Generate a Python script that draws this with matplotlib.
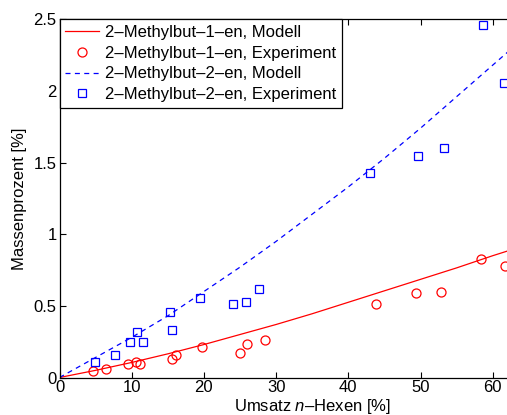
import matplotlib
matplotlib.use('Agg')
from matplotlib import pyplot as plt

plt.rcParams['font.family'] = ['Liberation Sans', 'DejaVu Sans']
plt.rcParams['mathtext.fontset'] = 'custom'
plt.rcParams['mathtext.it'] = 'Liberation Sans:italic'
plt.rcParams['mathtext.rm'] = 'Liberation Sans'

# Modellkurven
model_x = [0, 5, 10, 15, 20, 25, 30, 35, 40, 45, 50, 55, 60, 65]
model_mb1 = [0, 0.05, 0.105, 0.165, 0.23, 0.30, 0.37, 0.445, 0.525, 0.605, 0.685, 0.765, 0.85, 0.93]
model_mb2 = [0, 0.14, 0.28, 0.43, 0.60, 0.77, 0.95, 1.14, 1.33, 1.53, 1.74, 1.96, 2.18, 2.40]

# Messwerte 2-Methylbut-1-en
exp1_x = [4.6, 6.4, 9.5, 10.6, 11.1, 15.6, 16.2, 19.7, 25.0, 26.0, 28.5, 43.9, 49.4, 52.9, 58.4, 61.7]
exp1_y = [0.047, 0.061, 0.092, 0.11, 0.096, 0.127, 0.157, 0.212, 0.168, 0.235, 0.261, 0.512, 0.588, 0.60, 0.825, 0.778]

# Messwerte 2-Methylbut-2-en
exp2_x = [4.9, 7.7, 9.7, 10.8, 11.6, 15.3, 15.6, 19.5, 24.0, 25.8, 27.6, 43.0, 49.6, 53.3, 58.6, 61.5]
exp2_y = [0.11, 0.155, 0.245, 0.32, 0.245, 0.454, 0.33, 0.554, 0.51, 0.526, 0.621, 1.429, 1.547, 1.605, 2.457, 2.053]

W, H = 507, 415
fig = plt.figure(figsize=(W / 100, H / 100), dpi=100)
px_per_unit = 7.22
ax = fig.add_axes([59.5 / W, 37.5 / H, 70 * px_per_unit / W, 358.2 / H])

ax.plot(model_x, model_mb1, '-', color='red', lw=0.9, label='2–Methylbut–1–en, Modell')
ax.plot(exp1_x, exp1_y, 'o', mfc='none', mec='red', ms=6.5, mew=0.9,
        label='2–Methylbut–1–en, Experiment')
ax.plot(model_x, model_mb2, '--', color='blue', lw=0.9, dashes=(4, 3.5),
        label='2–Methylbut–2–en, Modell')
ax.plot(exp2_x, exp2_y, 's', mfc='none', mec='blue', ms=5.5, mew=0.9,
        label='2–Methylbut–2–en, Experiment')

ax.set_xlim(0, 70)
ax.set_ylim(0, 2.5)
ax.set_xticks([0, 10, 20, 30, 40, 50, 60])
ax.set_xticklabels(['0', '10', '20', '30', '40', '50', '60'])
ax.set_yticks([0, 0.5, 1, 1.5, 2, 2.5])
ax.set_yticklabels(['0', '0.5', '1', '1.5', '2', '2.5'])
ax.tick_params(direction='in', top=True, right=True, length=4, width=0.8,
               labelsize=12, pad=2)
for s in ax.spines.values():
    s.set_linewidth(0.9)

ax.set_xlabel('Umsatz $n$–Hexen [%]', fontsize=12, labelpad=1)
ax.set_ylabel('Massenprozent [%]', fontsize=12, labelpad=5)

leg = ax.legend(loc='upper left', bbox_to_anchor=(0, 1), borderaxespad=0,
                fancybox=False, edgecolor='black', framealpha=1, fontsize=12,
                handlelength=2.0, labelspacing=0.34, borderpad=0.35, handletextpad=0.4)
leg.get_frame().set_linewidth(0.9)

fig.savefig('out.png', dpi=100)
